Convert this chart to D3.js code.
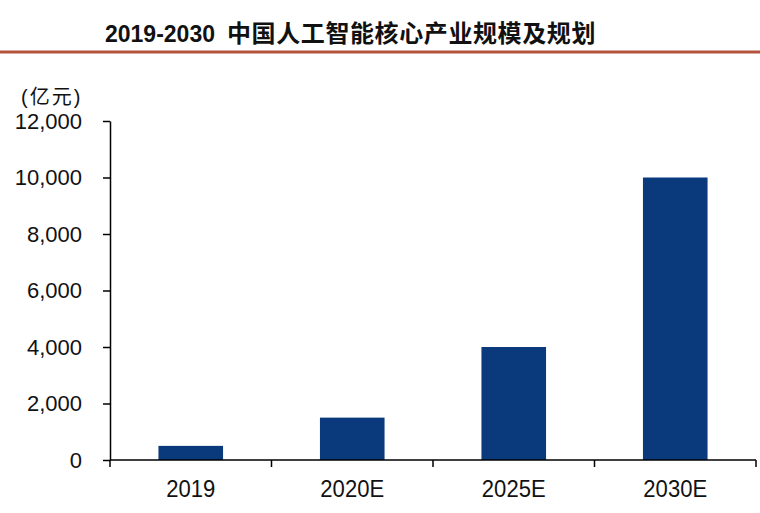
<!DOCTYPE html>
<html>
<head>
<meta charset="utf-8">
<script src="https://cdn.jsdelivr.net/npm/d3@7"></script>
<style>
body { margin: 0; background: #fff; }
</style>
</head>
<body>
<div id="chart"></div>
<script>
// data
let categories = ["2019", "2020E", "2025E", "2030E"];
let values = [500, 1500, 4000, 10000];
let yTicks = [0, 2000, 4000, 6000, 8000, 10000, 12000];

let W = 760, H = 513;
let margin = {left: 110, right: 4, top: 121, bottom: 53};
let width = W - margin.left - margin.right;
let height = H - margin.top - margin.bottom;

let root = d3.select("#chart").append("svg")
    .attr("width", W)
    .attr("height", H);

// title + rule
let title = root.append("text")
    .attr("x", 105).attr("y", 42)
    .style("font-weight", "bold")
    .style("fill", "#111");
title.append("tspan")
    .style("font-family", "'Liberation Sans', Arial, sans-serif")
    .style("font-size", "23px")
    .text("2019-2030");
title.append("tspan")
    .attr("x", 227)
    .style("font-family", "'Noto Sans CJK SC', sans-serif")
    .style("font-size", "24px")
    .style("letter-spacing", "0.6px")
    .text("中国人工智能核心产业规模及规划");

root.append("line")
    .attr("x1", 0).attr("x2", W)
    .attr("y1", 52).attr("y2", 52)
    .attr("stroke", "#b3533b")
    .attr("stroke-width", 3);

let svg = root.append("g")
    .attr("transform", "translate(" + margin.left + "," + margin.top + ")");

let x = d3.scaleBand().domain(categories).range([0, width]).paddingInner(0.6).paddingOuter(0.3);
let y = d3.scaleLinear().domain([0, 12000]).range([height, 0]);

// bars
svg.selectAll("rect.bar").data(values).enter().append("rect")
    .attr("class", "bar")
    .attr("x", (d, i) => x(categories[i]))
    .attr("y", d => y(d))
    .attr("width", x.bandwidth())
    .attr("height", d => height - y(d))
    .attr("fill", "#0b3a7c");

// y axis
let yAxis = svg.append("g")
    .call(d3.axisLeft(y).tickValues(yTicks).tickSize(7).tickSizeOuter(0).tickFormat(d3.format(",")));
yAxis.select(".domain").attr("stroke", "#000").attr("stroke-width", 1.5);
yAxis.selectAll(".tick line").attr("stroke", "#000").attr("stroke-width", 1.5);
yAxis.selectAll(".tick text")
    .attr("x", -28)
    .style("font-family", "'Liberation Sans', Arial, sans-serif")
    .style("font-size", "22px")
    .style("fill", "#111");

// x axis with ticks at category boundaries
let bounds = d3.range(categories.length + 1).map(i => i * width / categories.length);
let xAxis = svg.append("g").attr("transform", "translate(0," + height + ")");
xAxis.append("line")
    .attr("x1", 0).attr("x2", width)
    .attr("stroke", "#000").attr("stroke-width", 1.5);
xAxis.selectAll("line.bt").data(bounds).enter().append("line")
    .attr("class", "bt")
    .attr("x1", d => d).attr("x2", d => d)
    .attr("y1", 0).attr("y2", 7)
    .attr("stroke", "#000").attr("stroke-width", 1.5);
xAxis.selectAll("text").data(categories).enter().append("text")
    .attr("transform", d => "translate(" + (x(d) + x.bandwidth() / 2) + ",37) scale(0.92,1)")
    .attr("text-anchor", "middle")
    .style("font-family", "'Liberation Sans', Arial, sans-serif")
    .style("font-size", "24px")
    .style("fill", "#111")
    .text(d => d);

// unit label
root.append("text")
    .attr("x", 21).attr("y", 104)
    .style("font-family", "'Liberation Sans', 'Noto Sans CJK SC', sans-serif")
    .style("font-size", "20px")
    .style("letter-spacing", "2px")
    .style("fill", "#111")
    .text("(亿元)");
</script>
</body>
</html>
